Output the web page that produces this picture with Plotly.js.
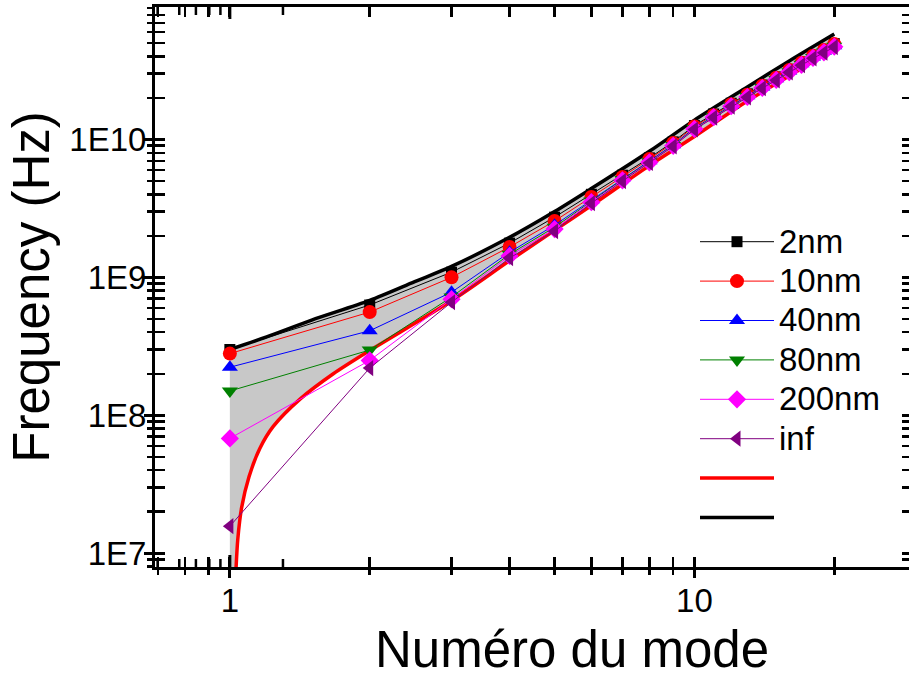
<!DOCTYPE html>
<html>
<head>
<meta charset="utf-8">
<script src="https://cdn.plot.ly/plotly-3.0.1.min.js"></script>
<style>html,body{margin:0;padding:0;overflow:hidden;background:#fff;}#chart{width:912px;height:681px;}</style>
</head>
<body>
<div id="chart"></div>
<script>
// ---- data ----
const modes = [1,2,3,4,5,6,7,8,9,10,11,12,13,14,15,16,17,18,19,20];
const seriesNames = ["2nm","10nm","40nm","80nm","200nm","inf"];
const f2nm   = [3.0e8,6.3e8,1.09e9,1.77e9,2.73e9,4.0e9,5.5e9,7.35e9,9.6e9,1.26e10,1.53e10,1.83e10,2.14e10,2.48e10,2.84e10,3.23e10,3.64e10,4.08e10,4.5e10,4.95e10];
const f10nm  = [2.8e8,5.6e8,1.0e9,1.66e9,2.56e9,3.82e9,5.33e9,7.2e9,9.4e9,1.24e10,1.5e10,1.8e10,2.11e10,2.45e10,2.8e10,3.19e10,3.6e10,4.04e10,4.45e10,4.91e10];
const f40nm  = [2.23e8,4.1e8,7.8e8,1.52e9,2.39e9,3.63e9,5.2e9,7.0e9,9.15e9,1.21e10,1.47e10,1.77e10,2.07e10,2.4e10,2.75e10,3.13e10,3.53e10,3.96e10,4.35e10,4.78e10];
const f80nm  = [1.5e8,2.97e8,7.2e8,1.47e9,2.31e9,3.57e9,5.12e9,6.9e9,9.05e9,1.2e10,1.46e10,1.75e10,2.05e10,2.38e10,2.72e10,3.1e10,3.5e10,3.93e10,4.31e10,4.74e10];
const f200nm = [6.8e7,2.5e8,6.95e8,1.43e9,2.24e9,3.51e9,5.05e9,6.82e9,8.98e9,1.19e10,1.45e10,1.74e10,2.03e10,2.36e10,2.7e10,3.08e10,3.47e10,3.9e10,4.28e10,4.7e10];
const fInf   = [1.57e7,2.2e8,6.6e8,1.38e9,2.16e9,3.45e9,4.99e9,6.75e9,8.9e9,1.18e10,1.44e10,1.73e10,2.02e10,2.35e10,2.68e10,3.06e10,3.45e10,3.87e10,4.25e10,4.67e10];

// upper (black) bound curve
const upperN = [1,1.2,1.5,2,2.5,3,4,5,6,8,10,13,16,20];
const upperF = [3.0e8,3.7e8,4.9e8,6.8e8,9.3e8,1.2e9,1.95e9,3.0e9,4.4e9,8.2e9,1.38e10,2.4e10,3.7e10,5.8e10];
// lower (red) bound curve
const lowerN = [1.028,1.04,1.06,1.1,1.16,1.24,1.42,1.67,2.0,3,4,5,6,8,10,13,16,20];
const lowerF = [6.3e6,1.26e7,2.14e7,3.6e7,5.75e7,8.3e7,1.32e8,2.0e8,2.95e8,6.76e8,1.32e9,2.19e9,3.31e9,6.46e9,1.05e10,1.9e10,2.88e10,4.57e10];
const floorF = 1e6; // below the visible range, closes the shaded band

// tick labels / tick positions
const xTickVals = [1,10];
const xTickText = ["1","10"];
const yTickVals = [1e7,1e8,1e9,1e10];
const yTickText = ["1E7","1E8","1E9","1E10"];
const xMinor = [0.7,0.8,0.9,2,3,4,5,6,7,8,9,20];
const yMinor = [];
[1e6,1e7,1e8,1e9,1e10].forEach(d => { for (let k=2;k<=9;k++) yMinor.push(k*d); });

// ---- styles ----
const colors  = ["#000000","#ff0000","#0000ff","#008000","#ff00ff","#800080"];
const symbols = ["square","circle","triangle-up","triangle-down","diamond","triangle-left"];
const sizes   = [11,14,14,14,14,14];
const seriesData = [f2nm,f10nm,f40nm,f80nm,f200nm,fInf];
const LEG = s => '<span style="font-size:33px">' + s + '</span>';

const traces = [];
// shaded band between curves
traces.push({
  x: upperN.concat(lowerN.slice().reverse(), [lowerN[0], 1, 1]),
  y: upperF.concat(lowerF.slice().reverse(), [floorF, floorF, upperF[0]]),
  mode: "lines", fill: "toself", fillcolor: "#c8c8c8",
  line: {width: 0, color: "#c8c8c8"}, showlegend: false, hoverinfo: "skip"
});
traces.push({x: lowerN, y: lowerF, mode: "lines", name: "", line: {color: "#ff0000", width: 3.5, shape: "spline", smoothing: 0.8}, legendrank: 7});
traces.push({x: upperN, y: upperF, mode: "lines", name: "", line: {color: "#000000", width: 3.5, shape: "spline", smoothing: 0.8}, legendrank: 8});
seriesData.forEach((s, i) => {
  traces.push({
    x: modes, y: s, name: LEG(seriesNames[i]), mode: "lines+markers",
    line: {color: colors[i], width: 1},
    marker: {symbol: symbols[i], size: sizes[i], color: colors[i]},
    legendrank: i + 1
  });
});
// empty traces so the outer-tick overlay axes get drawn
traces.push({x: [null], y: [null], xaxis: "x2", yaxis: "y", mode: "markers", showlegend: false, hoverinfo: "skip"});
traces.push({x: [null], y: [null], xaxis: "x", yaxis: "y2", mode: "markers", showlegend: false, hoverinfo: "skip"});

const FONT = "Liberation Sans, Arial, sans-serif";
const axBase = {
  type: "log", showgrid: false, zeroline: false,
  showline: true, linewidth: 3, linecolor: "#000",
  tickcolor: "#000", tickwidth: 3, ticklen: 10
};
const xr = [Math.log10(0.69), Math.log10(29.4)];
const yr = [6.9, 10.96];
const PLOT_H = 560;

// inner tick marks along the top and bottom edges (shape x on a log axis is given in log10 units)
const tickShapes = [];
const addTick = (v, len, w) => {
  const lx = Math.log10(v);
  [[1, 1 - len / PLOT_H], [0, len / PLOT_H]].forEach(([a, b]) => {
    tickShapes.push({type: "line", xref: "x", yref: "paper", x0: lx, x1: lx, y0: a, y1: b,
                     line: {color: "#000", width: w}, layer: "above"});
  });
};
xTickVals.forEach(v => addTick(v, 12, 3));
xMinor.forEach(v => addTick(v, 8, 2.5));

const layout = {
  width: 912, height: 681,
  margin: {l: 155, r: 0, t: 7, b: 114},
  paper_bgcolor: "#fff", plot_bgcolor: "#fff",
  font: {family: FONT, color: "#000"},
  showlegend: true,
  legend: {x: (695 - 155) / 757, xanchor: "left", y: 0.625, yanchor: "top",
           font: {size: 28, family: FONT}, bgcolor: "rgba(0,0,0,0)", itemwidth: 74,
           traceorder: "normal"},
  xaxis: Object.assign({}, axBase, {
    range: xr, tickmode: "array", tickvals: xTickVals, ticktext: xTickText,
    ticks: "inside", mirror: "allticks", tickfont: {size: 33}, ticklabelstandoff: 2,
    minor: {tickvals: xMinor, ticks: "inside", ticklen: 7, tickwidth: 2.5, tickcolor: "#000"}
  }),
  yaxis: Object.assign({}, axBase, {
    range: yr, tickmode: "array", tickvals: yTickVals, ticktext: yTickText,
    ticks: "inside", mirror: "allticks", tickfont: {size: 33}, ticklabelstandoff: -1,
    title: {text: "Frequency (Hz)", font: {size: 51}, standoff: 4},
    minor: {tickvals: yMinor, ticks: "inside", ticklen: 7, tickwidth: 2.5, tickcolor: "#000"}
  }),
  xaxis2: Object.assign({}, axBase, {
    range: xr, overlaying: "x", anchor: "y", side: "bottom",
    tickmode: "array", tickvals: xTickVals, ticks: "outside",
    showticklabels: false, showline: false,
    minor: {tickvals: xMinor, ticks: "outside", ticklen: 7, tickwidth: 2.5, tickcolor: "#000"}
  }),
  yaxis2: Object.assign({}, axBase, {
    range: yr, overlaying: "y", anchor: "x", side: "left",
    tickmode: "array", tickvals: yTickVals, ticks: "outside",
    showticklabels: false, showline: false,
    minor: {tickvals: yMinor, ticks: "outside", ticklen: 7, tickwidth: 2.5, tickcolor: "#000"}
  }),
  shapes: tickShapes,
  annotations: [{
    text: "Numéro du mode", xref: "paper", yref: "paper",
    x: (572 - 155) / 757, y: -(681 - 567 - 1) / 560, xanchor: "center", yanchor: "bottom",
    showarrow: false, font: {size: 51, family: FONT}
  }]
};

Plotly.newPlot("chart", traces, layout, {displayModeBar: false, staticPlot: true});
</script>
</body>
</html>
